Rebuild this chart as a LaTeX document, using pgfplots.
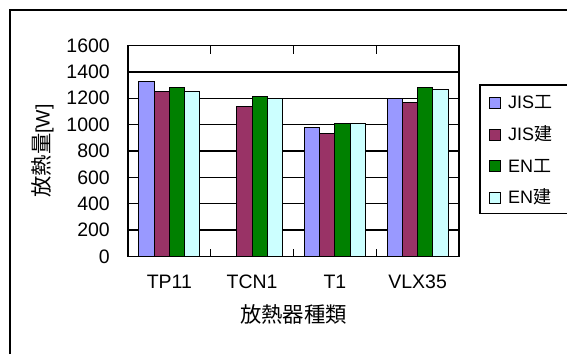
\documentclass[border=0pt]{standalone}
\usepackage{fontspec}
\setmainfont{Liberation Sans}
\newfontfamily\cjk{Noto Sans CJK JP}
\usepackage{pgfplots}
\pgfplotsset{compat=1.18}
\definecolor{cJISk}{HTML}{9999FF}
\definecolor{cJISt}{HTML}{993366}
\definecolor{cENk}{HTML}{008000}
\definecolor{cENt}{HTML}{CCFFFF}
\begin{document}
\begin{tikzpicture}
\path[use as bounding box] (0,0) rectangle (425.25pt,265.5pt);
\draw[line width=1.3pt] (7.5pt,0pt) -- (7.5pt,258pt) -- (425.25pt,258pt);
\draw[line width=0.8pt] (425.25pt,201.75pt) -- (360pt,201.75pt) -- (360pt,105.5pt) -- (425.25pt,105.5pt);
\begin{axis}[
  at={(96pt,73.1pt)}, anchor=south west,
  scale only axis, width=248.25pt, height=158.25pt,
  ybar=0pt, bar width=11.4pt,
  xmin=-0.5, xmax=3.5, ymin=0, ymax=1600,
  xtick={-0.5,0.5,1.5,2.5,3.5},
  x tick label as interval,
  xticklabels={TP11,TCN1,T1,VLX35},
  ytick={0,200,...,1600},
  tick align=inside, major tick length=6pt,
  ytick style={draw=none},
  xtick style={black, line width=1pt},
  ymajorgrids, grid style={black, line width=1pt},
  axis line style={black, line width=1pt},
  /pgf/number format/assume math mode=true,
  /pgf/number format/1000 sep={},
  tick label style={font=\fontsize{14.6}{17}\selectfont},
  xticklabel style={anchor=north, inner sep=0pt, yshift=-13.9pt},
  yticklabel style={anchor=east, inner sep=0pt, xshift=-13.5pt},
  xlabel={\cjk\fontsize{16}{18}\selectfont 放熱器種類},
  xlabel style={at={(axis description cs:0.5,-0.2725)}, anchor=center},
  ylabel={{\cjk\fontsize{16}{18}\selectfont 放熱量}{\fontsize{14.6}{17}\selectfont [W]}},
  ylabel style={at={(axis description cs:-0.258,0.5)}, anchor=center},
  legend style={at={(axis description cs:1.0634,0.8128)}, anchor=north west,
    draw=none, fill=none, inner xsep=6.2pt, inner ysep=1.2pt,
    font=\fontsize{13.5}{16}\selectfont, row sep=0pt, column sep=5.8pt,
    nodes={inner sep=0pt, text height=16.4pt, text depth=7.4pt}},
  legend cell align=left,
  legend image code/.code={\draw[#1, line width=0.6pt] (0pt,-4.1pt) rectangle (8.25pt,4.1pt);},
  every axis plot/.append style={draw=black, line width=0.75pt},
]
\addplot[fill=cJISk] coordinates {(0,1330) (2,980) (3,1200)};
\addlegendentry{JIS{\cjk 工}}
\addplot[fill=cJISt] coordinates {(0,1255) (1,1140) (2,934) (3,1168)};
\addlegendentry{JIS{\cjk 建}}
\addplot[fill=cENk] coordinates {(0,1285) (1,1212) (2,1010) (3,1285)};
\addlegendentry{EN{\cjk 工}}
\addplot[fill=cENt] coordinates {(0,1255) (1,1198) (2,1010) (3,1270)};
\addlegendentry{EN{\cjk 建}}
\end{axis}
\end{tikzpicture}
\end{document}
